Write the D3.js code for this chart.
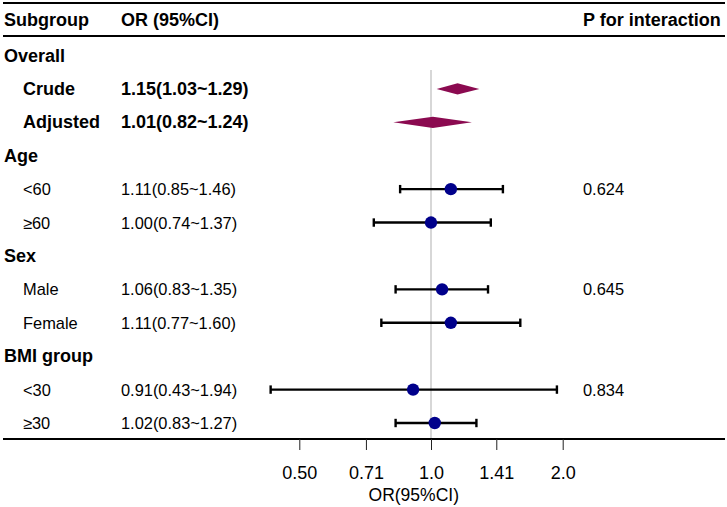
<!DOCTYPE html>
<html>
<head>
<meta charset="utf-8">
<script src="https://cdn.jsdelivr.net/npm/d3@7"></script>
<style>
  body { margin: 0; background: #fff; }
  svg { display: block; }
</style>
</head>
<body>
<div class="forest-container"></div>
<script>
const SVG_WIDTH = 727;
const SVG_HEIGHT = 507;

// rows of the table, top to bottom
const row_labels = ["Overall", "Crude", "Adjusted", "Age", "<60", "≥60", "Sex", "Male", "Female", "BMI group", "<30", "≥30"];
const row_types = ["group", "overall", "overall", "group", "sub", "sub", "group", "sub", "sub", "group", "sub", "sub"];
const or_values = [null, 1.15, 1.01, null, 1.11, 1.00, null, 1.06, 1.11, null, 0.91, 1.02];
const ci_lower = [null, 1.03, 0.82, null, 0.85, 0.74, null, 0.83, 0.77, null, 0.43, 0.83];
const ci_upper = [null, 1.29, 1.24, null, 1.46, 1.37, null, 1.35, 1.60, null, 1.94, 1.27];
const p_interaction = [null, null, null, null, "0.624", null, null, "0.645", null, null, "0.834", null];

const tick_values = [0.5, 0.71, 1.0, 1.41, 2.0];
const tick_labels = ["0.50", "0.71", "1.0", "1.41", "2.0"];

const FONT = "'Liberation Sans', Arial, sans-serif";

const svg = d3.select(".forest-container")
    .append("svg")
    .attr("width", SVG_WIDTH)
    .attr("height", SVG_HEIGHT);

const x = d3.scaleLog().base(2)
    .domain([0.5, 2])
    .range([299.3, 562.7]);

const y = d3.scalePoint()
    .domain(d3.range(row_labels.length))
    .range([55.5, 423]);

const fmt = d3.format(".2f");

function ciText(i){
    return `${fmt(or_values[i])}(${fmt(ci_lower[i])}~${fmt(ci_upper[i])})`
}

// header rules
svg.append("line")
    .attr("x1", 3).attr("x2", 725)
    .attr("y1", 3).attr("y2", 3)
    .attr("stroke", "#000").attr("stroke-width", 2);

svg.append("line")
    .attr("x1", 3).attr("x2", 725)
    .attr("y1", 36).attr("y2", 36)
    .attr("stroke", "#000").attr("stroke-width", 2);

const header = [
    {text: "Subgroup", x: 4},
    {text: "OR (95%CI)", x: 121},
    {text: "P for interaction", x: 583}
];

svg.selectAll(".header")
    .data(header)
    .enter()
    .append("text")
    .attr("x", d => d.x)
    .attr("y", 20)
    .attr("dominant-baseline", "central")
    .style("font-family", FONT)
    .style("font-size", "18px")
    .style("font-weight", "bold")
    .text(d => d.text);

// reference line at OR = 1
svg.append("line")
    .attr("x1", x(1)).attr("x2", x(1))
    .attr("y1", 70).attr("y2", 439)
    .attr("stroke", "#bdbdbd")
    .attr("stroke-width", 1.2);

const rows = svg.append("g");

for (let i = 0; i < row_labels.length; i++){
    const type = row_types[i];
    const yPos = y(i);
    const bold = type !== "sub";
    const size = bold ? "18px" : "16.4px";

    rows.append("text")
        .attr("x", type === "group" ? 4 : 23)
        .attr("y", yPos)
        .attr("dominant-baseline", "central")
        .style("font-family", FONT)
        .style("font-size", size)
        .style("font-weight", bold ? "bold" : "normal")
        .text(row_labels[i]);

    if (or_values[i] !== null){
        rows.append("text")
            .attr("x", 121)
            .attr("y", yPos)
            .attr("dominant-baseline", "central")
            .style("font-family", FONT)
            .style("font-size", size)
            .style("font-weight", bold ? "bold" : "normal")
            .text(ciText(i));
    }

    if (p_interaction[i] !== null){
        rows.append("text")
            .attr("x", 583)
            .attr("y", yPos)
            .attr("dominant-baseline", "central")
            .style("font-family", FONT)
            .style("font-size", "16.4px")
            .text(p_interaction[i]);
    }

    if (type === "overall"){
        const lo = x(ci_lower[i]);
        const hi = x(ci_upper[i]);
        const mid = x(or_values[i]);
        const h = 5.6;
        rows.append("path")
            .attr("d", `M${lo},${yPos} L${mid},${yPos - h} L${hi},${yPos} L${mid},${yPos + h} Z`)
            .attr("fill", "#8b0a50");
    } else if (type === "sub"){
        const lo = x(ci_lower[i]);
        const hi = x(ci_upper[i]);
        rows.append("line")
            .attr("x1", lo).attr("x2", hi)
            .attr("y1", yPos).attr("y2", yPos)
            .attr("stroke", "#000").attr("stroke-width", 2.4);
        for (const cx of [lo, hi]){
            rows.append("line")
                .attr("x1", cx).attr("x2", cx)
                .attr("y1", yPos - 4.2).attr("y2", yPos + 4.2)
                .attr("stroke", "#000").attr("stroke-width", 2.4);
        }
        rows.append("circle")
            .attr("cx", x(or_values[i]))
            .attr("cy", yPos)
            .attr("r", 6.2)
            .attr("fill", "#00008b");
    }
}

// bottom axis
svg.append("line")
    .attr("x1", 3).attr("x2", 725)
    .attr("y1", 439).attr("y2", 439)
    .attr("stroke", "#000").attr("stroke-width", 2);

const axis = d3.axisBottom(x)
    .tickValues(tick_values)
    .tickFormat((d, i) => tick_labels[i])
    .tickSize(11)
    .tickPadding(16);

const axisG = svg.append("g")
    .attr("transform", "translate(0,439)")
    .call(axis);

axisG.select(".domain").remove();
axisG.selectAll(".tick line")
    .attr("stroke", "#222")
    .attr("stroke-width", 1);
axisG.selectAll(".tick text")
    .style("font-family", FONT)
    .style("font-size", "18px")
    .attr("fill", "#000");

const lowest = d3.min(ci_lower.filter(d => d !== null));
const highest = d3.max(ci_upper.filter(d => d !== null));

svg.append("text")
    .attr("x", (x(lowest) + x(highest)) / 2)
    .attr("y", 495)
    .attr("text-anchor", "middle")
    .attr("dominant-baseline", "central")
    .style("font-family", FONT)
    .style("font-size", "17.5px")
    .text("OR(95%CI)");
</script>
</body>
</html>
